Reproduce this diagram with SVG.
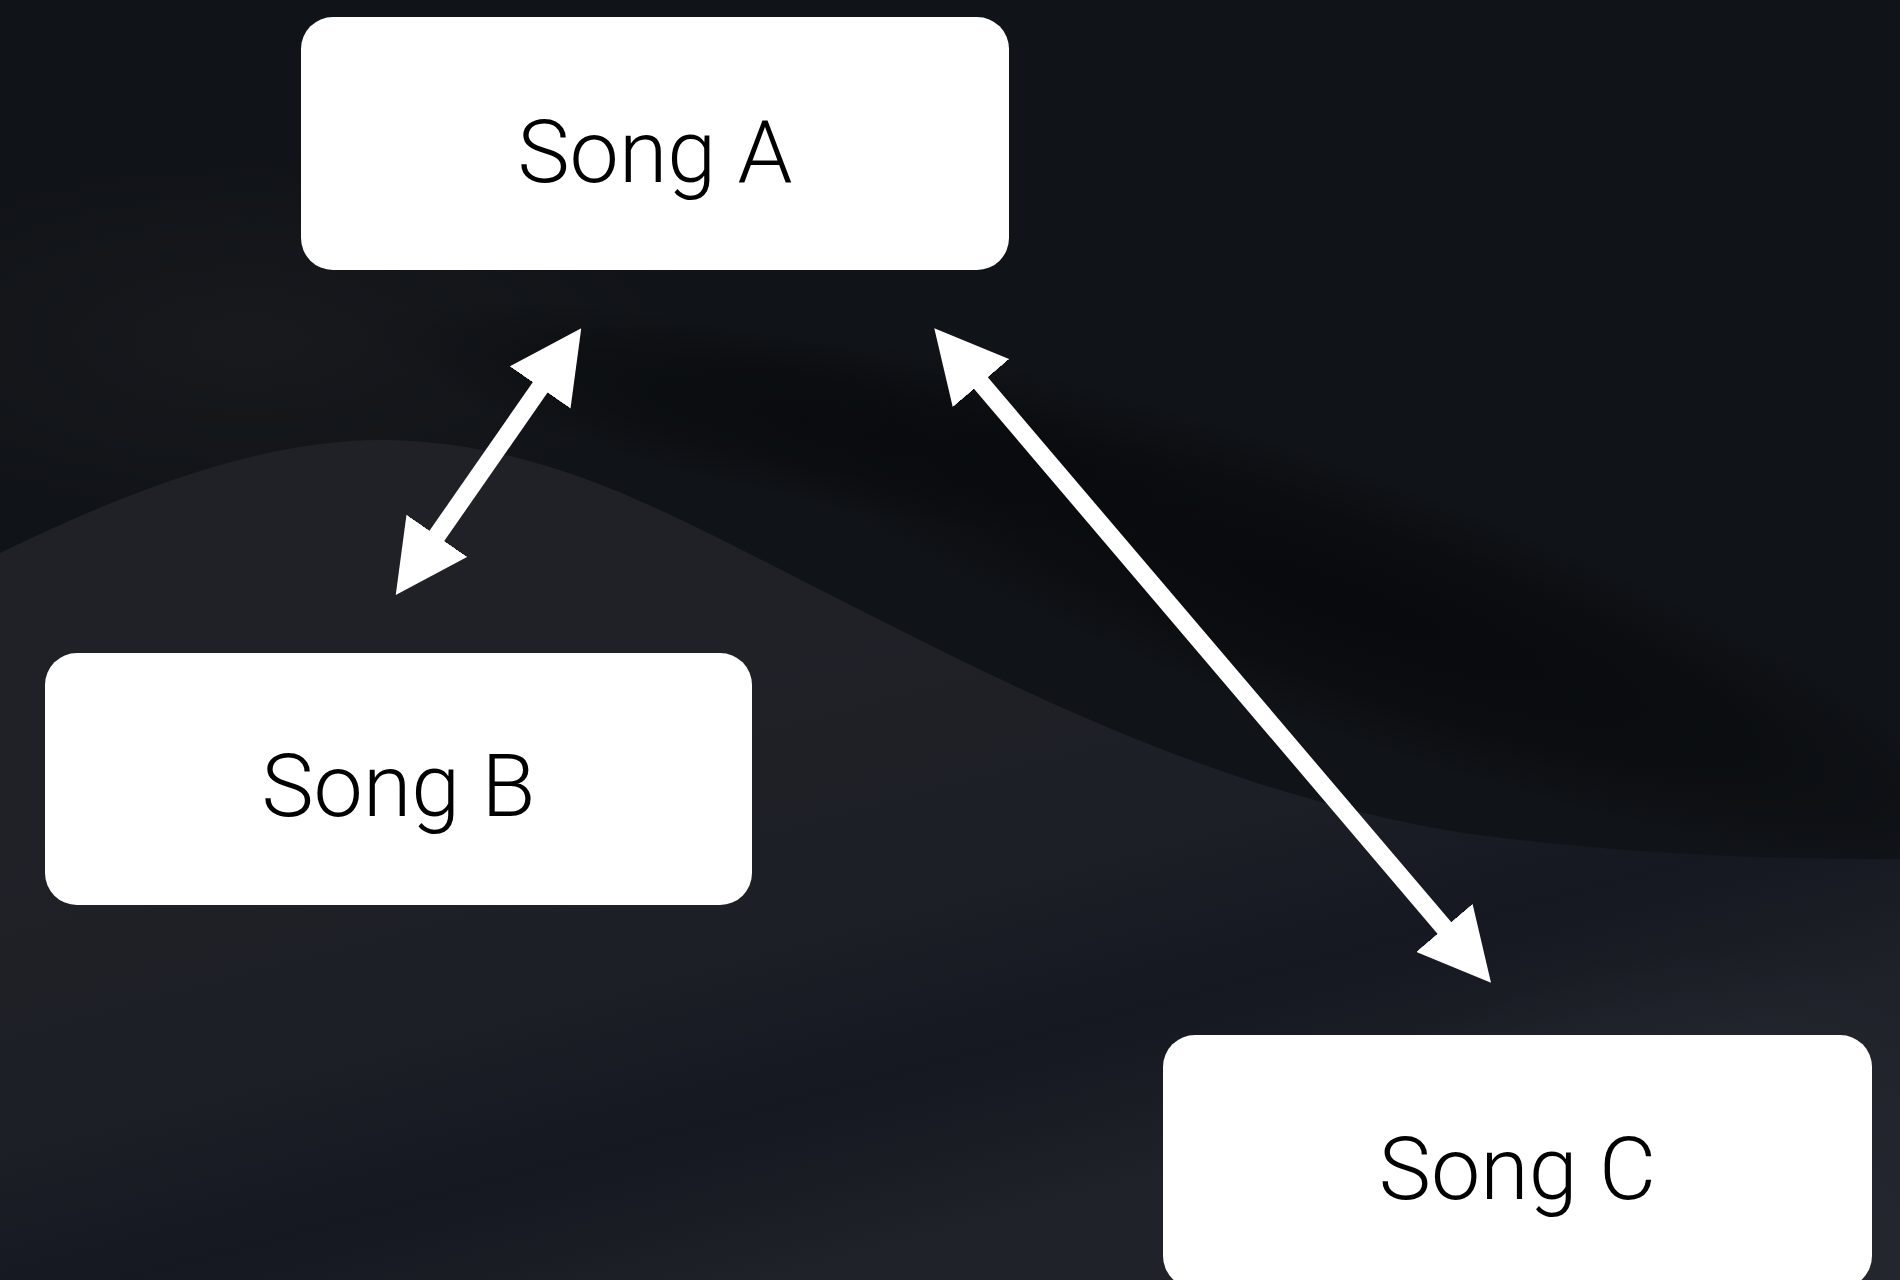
<svg xmlns="http://www.w3.org/2000/svg" width="1900" height="1280" viewBox="0 0 1900 1280">
  <style>
    .node rect { fill: #ffffff; }
    .node text { font-family: Roboto, "Liberation Sans", sans-serif; font-weight: 300; font-size: 88px; fill: #000000; text-anchor: middle; }
    .conn line { stroke: #ffffff; stroke-width: 18; fill: none; }
  </style>
  <defs>
    <marker id="head" markerUnits="userSpaceOnUse" viewBox="0 0 72 74" markerWidth="72" markerHeight="74" refX="36" refY="37" orient="auto-start-reverse">
      <path d="M0,0 L72,37 L0,74 Z" fill="#ffffff"/>
    </marker>
    <radialGradient id="glowTL">
      <stop offset="0" stop-color="#17191d" stop-opacity="1"/>
      <stop offset="1" stop-color="#17191d" stop-opacity="0"/>
    </radialGradient>
    <radialGradient id="darkBand">
      <stop offset="0" stop-color="#07090c" stop-opacity="0.9"/>
      <stop offset="0.55" stop-color="#07090c" stop-opacity="0.6"/>
      <stop offset="1" stop-color="#07090c" stop-opacity="0"/>
    </radialGradient>
    <linearGradient id="lowerFill" gradientUnits="userSpaceOnUse" x1="560" y1="700" x2="720" y2="1300">
      <stop offset="0" stop-color="#1f2127"/>
      <stop offset="0.45" stop-color="#1d1f26"/>
      <stop offset="0.72" stop-color="#151821"/>
      <stop offset="0.85" stop-color="#1a1c24"/>
      <stop offset="1" stop-color="#20222a"/>
    </linearGradient>
    <radialGradient id="glowBR">
      <stop offset="0" stop-color="#282a33" stop-opacity="0.9"/>
      <stop offset="1" stop-color="#282a33" stop-opacity="0"/>
    </radialGradient>
  </defs>

  <!-- background -->
  <rect x="0" y="0" width="1900" height="1280" fill="#101317"/>
  <ellipse cx="250" cy="340" rx="450" ry="190" fill="url(#glowTL)"/>
  <ellipse cx="800" cy="420" rx="440" ry="80" transform="rotate(12 800 420)" fill="url(#darkBand)" opacity="0.7"/>
  <ellipse cx="1340" cy="600" rx="700" ry="130" transform="rotate(20 1340 600)" fill="url(#darkBand)"/>
  <path d="M0,553 C140,485 270,438 390,440 C560,445 680,520 860,610 C1060,712 1250,800 1470,834 C1640,856 1780,859 1900,859 L1900,1280 L0,1280 Z" fill="url(#lowerFill)"/>
  <ellipse cx="1700" cy="1250" rx="420" ry="300" fill="url(#glowBR)"/>

  <!-- connectors -->
  <g id="connectors" class="conn">
    <line x1="416.3" y1="565.4" x2="560.7" y2="357.9" marker-start="url(#head)" marker-end="url(#head)"/>
    <line x1="957.6" y1="355.7" x2="1467.7" y2="955.3" marker-start="url(#head)" marker-end="url(#head)"/>
  </g>

  <!-- nodes -->
  <g id="song-a" class="node">
    <rect x="301" y="17" width="708" height="253" rx="32" ry="32"/>
    <text x="655" y="182">Song A</text>
  </g>
  <g id="song-b" class="node">
    <rect x="45" y="653" width="707" height="252" rx="32" ry="32"/>
    <text x="398.5" y="816">Song B</text>
  </g>
  <g id="song-c" class="node">
    <rect x="1163" y="1035" width="709" height="253" rx="32" ry="32"/>
    <text x="1517.5" y="1199">Song C</text>
  </g>
</svg>
